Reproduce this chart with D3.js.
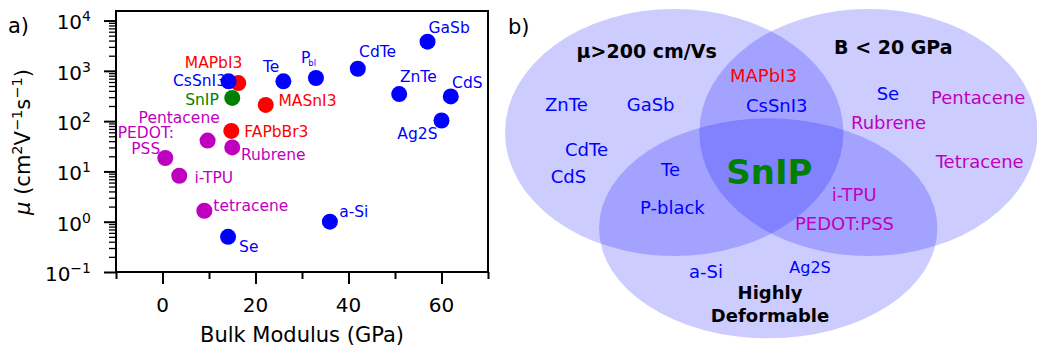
<!DOCTYPE html>
<html><head><meta charset="utf-8">
<script src="https://cdn.jsdelivr.net/npm/d3@7"></script>
<style>
body{margin:0;background:#fff}
svg{display:block}
text{font-family:"DejaVu Sans","Verdana",sans-serif}
</style>
</head><body>
<svg id="c" width="1037" height="346"></svg>
<script>
// ---------------- data (panel a) ----------------
const materials   = ["MAPbI3","MASnI3","FAPbBr3","GaSb","CdTe","P_bl","Te","CsSnI3","ZnTe","CdS","Ag2S","a-Si","Se","SnIP","Pentacene","Rubrene","PEDOT:PSS","i-TPU","tetracene"];
const bulkModulus = [16.3, 22.2, 14.8, 57, 42, 33, 26, 14.2, 50.9, 62, 60, 36, 14.1, 15, 9.7, 15, 0.6, 3.6, 9];
const mobility    = [570, 210, 64, 3800, 1100, 720, 620, 620, 345, 310, 103, 1.0, 0.5, 290, 41, 30, 18.5, 8.2, 1.65];
const materialClass = ["perovskite","perovskite","perovskite","inorganic","inorganic","inorganic","inorganic","inorganic","inorganic","inorganic","inorganic","inorganic","inorganic","snip","organic","organic","organic","organic","organic"];
const xTickValues = [0, 20, 40, 60];
const xMinorValues = [-10, 10, 30, 50, 70];
const yDecades = [-1, 0, 1, 2, 3, 4];
const xLabel = "Bulk Modulus (GPa)";

// ---------------- data (panel b) ----------------
const vennSets = ["μ>200 cm/Vs", "B < 20 GPa", "Highly|Deformable"];
const vennItems = ["MAPbI3","CsSnI3","ZnTe","GaSb","Se","Pentacene","Rubrene","Tetracene","CdTe","CdS","Te","SnIP","i-TPU","P-black","PEDOT:PSS","a-Si","Ag2S"];
const vennItemClass = ["perovskite","inorganic","inorganic","inorganic","inorganic","organic","organic","organic","inorganic","inorganic","inorganic","snip","organic","inorganic","organic","inorganic","inorganic"];

// ---------------- styles / layout ----------------
const colors = {perovskite:"#ff0000", inorganic:"#0000ff", snip:"#008000", organic:"#bf00bf"};
const drawOrder = ["perovskite","inorganic","snip","organic"];
const labelLayout = {
  "GaSb":{dx:1,dy:-8.4,a:"start"}, "CdTe":{dx:1.3,dy:-12,a:"start"},
  "P_bl":{dx:-15,dy:-15,a:"start"}, "Te":{dx:-20.4,dy:-9,a:"start"},
  "MAPbI3":{dx:-53.5,dy:-15.6,a:"start"}, "CsSnI3":{dx:-2.5,dy:4.4,a:"end"},
  "SnIP":{dx:-13.5,dy:7,a:"end"}, "MASnI3":{dx:12.7,dy:0.7,a:"start"},
  "FAPbBr3":{dx:13,dy:6.3,a:"start"}, "Rubrene":{dx:8.7,dy:12.3,a:"start"},
  "Pentacene":{dx:-69,dy:-17.4,a:"start"}, "i-TPU":{dx:15.3,dy:7.5,a:"start"},
  "tetracene":{dx:9,dy:0.3,a:"start"}, "Se":{dx:11,dy:15,a:"start"},
  "a-Si":{dx:9.3,dy:-4.4,a:"start"}, "ZnTe":{dx:0.7,dy:-12.3,a:"start"},
  "CdS":{dx:1.3,dy:-8,a:"start"}, "Ag2S":{dx:-4,dy:19,a:"end"},
  "PEDOT:PSS":{dx:-19.5,dy:-20,a:"middle"}
};

const svg = d3.select("#c");
const M = {left:116, right:488, top:11, bottom:272};

const x = d3.scaleLinear().domain([-10, 70]).range([M.left, M.right]);
const y = d3.scaleLog().domain([0.1, Math.pow(10, 4.19)]).range([M.bottom, M.top]);

const ga = svg.append("g");

const yMajorVals = yDecades.map(d => Math.pow(10, d));
const yMinorVals = [];
yDecades.forEach(d => { for (let k = 2; k <= 9; k++) { const v = k * Math.pow(10, d); if (v < y.domain()[1]) yMinorVals.push(v); } });

function styleAxis(g, w) {
  g.select(".domain").remove();
  g.selectAll(".tick line").attr("stroke", "#000").attr("stroke-width", w);
}
ga.append("g").attr("transform", `translate(${M.left},0)`)
  .call(d3.axisLeft(y).tickValues(yMinorVals).tickSize(7).tickFormat(""))
  .call(g => styleAxis(g, 1.3));
ga.append("g").attr("transform", `translate(${M.left},0)`)
  .call(d3.axisLeft(y).tickValues(yMajorVals).tickSize(12).tickFormat(""))
  .call(g => styleAxis(g, 2));
ga.append("g").attr("transform", `translate(0,${M.bottom})`)
  .call(d3.axisBottom(x).tickValues(xMinorValues).tickSize(7).tickFormat(""))
  .call(g => styleAxis(g, 2));
ga.append("g").attr("transform", `translate(0,${M.bottom})`)
  .call(d3.axisBottom(x).tickValues(xTickValues).tickSize(12).tickFormat(""))
  .call(g => styleAxis(g, 2));

yDecades.forEach(d => {
  const t = ga.append("text").attr("x", 91).attr("y", y(Math.pow(10, d)) + 8.8)
    .attr("text-anchor", "end").attr("font-size", 20).attr("fill", "#000");
  t.append("tspan").text("10");
  t.append("tspan").attr("dy", -8).attr("font-size", 14).text(d < 0 ? "\u2212" + (-d) : String(d));
});
xTickValues.forEach(v => {
  ga.append("text").attr("x", x(v)).attr("y", 311.7).attr("text-anchor", "middle")
    .attr("font-size", 20).attr("fill", "#000").text(String(v));
});
ga.append("text").attr("x", (M.left + M.right) / 2).attr("y", 341.5).attr("text-anchor", "middle")
  .attr("font-size", 21).attr("fill", "#000").text(xLabel);
const yl = ga.append("text").attr("transform", "translate(30,142) rotate(-90)")
  .attr("text-anchor", "middle").attr("font-size", 21).attr("fill", "#000");
yl.append("tspan").attr("font-style", "italic").text("μ");
yl.append("tspan").text(" (cm");
yl.append("tspan").attr("dy", -8).attr("font-size", 14.5).text("2");
yl.append("tspan").attr("dy", 8).text("V");
yl.append("tspan").attr("dy", -8).attr("font-size", 14.5).text("\u22121");
yl.append("tspan").attr("dy", 8).text("s");
yl.append("tspan").attr("dy", -8).attr("font-size", 14.5).text("\u22121");
yl.append("tspan").attr("dy", 8).text(")");
ga.append("text").attr("x", 8).attr("y", 33).attr("font-size", 21).attr("fill", "#000").text("a)");

const pts = materials.map((m, i) => ({m, bx: bulkModulus[i], mu: mobility[i], c: materialClass[i]}));
const ordered = drawOrder.flatMap(c => pts.filter(p => p.c === c));
ga.append("g").selectAll("circle").data(ordered).join("circle")
  .attr("cx", d => x(d.bx)).attr("cy", d => y(d.mu)).attr("r", 8)
  .attr("fill", d => colors[d.c]);

pts.forEach(p => {
  const L = labelLayout[p.m];
  if (!L) return;
  const cx = x(p.bx), cy = y(p.mu);
  const t = ga.append("text").attr("x", cx + L.dx).attr("y", cy + L.dy).attr("text-anchor", L.a)
    .attr("font-size", 15.5).attr("fill", colors[p.c]);
  if (p.m === "PEDOT:PSS") {
    t.append("tspan").attr("x", cx + L.dx).text("PEDOT:");
    t.append("tspan").attr("x", cx + L.dx).attr("dy", 15.7).text("PSS");
  } else if (p.m === "P_bl") {
    t.append("tspan").text("P");
    t.append("tspan").attr("dx", -2).attr("dy", 3).attr("font-size", 8.5).text("bl");
  } else t.text(p.m);
});

ga.append("rect").attr("x", M.left).attr("y", M.top).attr("width", M.right - M.left)
  .attr("height", M.bottom - M.top).attr("fill", "none").attr("stroke", "#000").attr("stroke-width", 2);

// ---------------- panel b: venn ----------------
const gb = svg.append("g");
const ellipses = [
  {cx:674.2, cy:132.5, rx:169.2, ry:123.5},
  {cx:868.5, cy:132.5, rx:169.2, ry:123.5},
  {cx:768.2, cy:228.3, rx:169.2, ry:110}
];
gb.selectAll("ellipse").data(ellipses).join("ellipse")
  .attr("cx", d => d.cx).attr("cy", d => d.cy).attr("rx", d => d.rx).attr("ry", d => d.ry)
  .attr("fill", "#0000ff").attr("fill-opacity", 0.2);

gb.append("text").attr("x", 508).attr("y", 33.5).attr("font-size", 21).attr("fill", "#000").text("b)");
const setPos = [{x:646.7, y:58.3}, {x:893.3, y:54}, {x:770, y:299}];
vennSets.forEach((s, i) => {
  s.split("|").forEach((p, j) => {
    gb.append("text").attr("x", setPos[i].x).attr("y", setPos[i].y + j * 22.5)
      .attr("text-anchor", "middle").attr("font-weight", "bold")
      .attr("font-size", i === 2 ? 18 : 19).attr("fill", "#000").text(p);
  });
});
const itemPos = {
  "MAPbI3":[730,81.7], "CsSnI3":[746,112.3], "ZnTe":[545,110.7], "GaSb":[626.7,110.7],
  "Se":[876.7,100], "Pentacene":[931,104], "Rubrene":[851,129], "Tetracene":[935.7,167.7],
  "CdTe":[565,156], "CdS":[550.7,183], "Te":[661,176], "i-TPU":[831.7,201],
  "P-black":[640,214], "PEDOT:PSS":[795,229.5], "a-Si":[689,277.5], "Ag2S":[789.3,273.3]
};
vennItems.forEach((m, i) => {
  if (m === "SnIP") {
    gb.append("text").attr("x", 769.4).attr("y", 184.3).attr("text-anchor", "middle")
      .attr("font-weight", "bold").attr("font-size", 34).attr("fill", colors.snip).text(m);
    return;
  }
  const p = itemPos[m];
  gb.append("text").attr("x", p[0]).attr("y", p[1]).attr("font-size", m === "Ag2S" ? 16 : 18)
    .attr("fill", colors[vennItemClass[i]]).text(m);
});
</script>
</body></html>
